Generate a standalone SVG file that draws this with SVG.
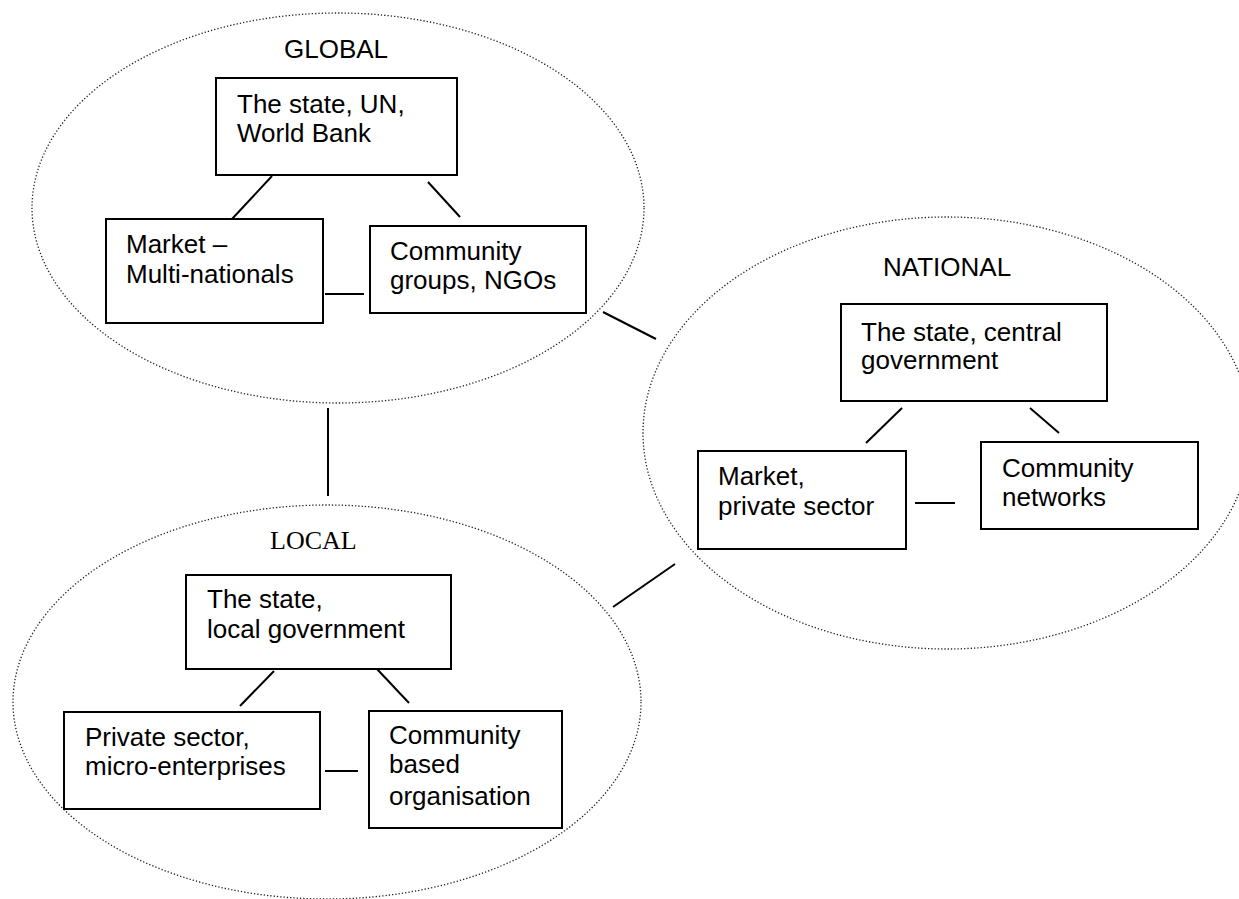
<svg xmlns="http://www.w3.org/2000/svg" width="1239" height="899" viewBox="0 0 1239 899">
<style>
.bg{fill:#fff}
.zone{fill:none;stroke:#222;stroke-width:1.3;stroke-dasharray:1.3 2}
.box{fill:#fff;stroke:#000;stroke-width:2}
.lbl{font-family:"Liberation Sans",Arial,sans-serif;font-size:26px;fill:#000}
.ttl{font-family:"Liberation Sans",Arial,sans-serif;font-size:26px;fill:#000}
.ttls{font-family:"Liberation Serif","Times New Roman",serif;font-size:26px;fill:#000}
.ln{stroke:#000;stroke-width:2;fill:none}
</style>
<rect class="bg" x="0" y="0" width="1239" height="899"/>
<g id="zones">
<ellipse id="global" class="zone" cx="338" cy="208" rx="306" ry="195"/>
<ellipse id="national" class="zone" cx="947" cy="433" rx="304" ry="216"/>
<ellipse id="local" class="zone" cx="327" cy="702" rx="314" ry="197"/>
</g>
<g id="titles">
<text class="ttl" x="284" y="58">GLOBAL</text>
<text class="ttl" x="883" y="276">NATIONAL</text>
<text class="ttls" x="270" y="549">LOCAL</text>
</g>
<g id="connectors">
<line class="ln" x1="272" y1="176" x2="232" y2="219"/>
<line class="ln" x1="428" y1="182" x2="460" y2="217"/>
<line class="ln" x1="325" y1="294" x2="364" y2="294"/>
<line class="ln" x1="902" y1="408" x2="866" y2="443"/>
<line class="ln" x1="1030" y1="408" x2="1059" y2="433"/>
<line class="ln" x1="915" y1="503" x2="955" y2="503"/>
<line class="ln" x1="274" y1="671" x2="240" y2="706"/>
<line class="ln" x1="377" y1="669" x2="409" y2="703"/>
<line class="ln" x1="325" y1="771" x2="358" y2="771"/>
<line class="ln" x1="328" y1="408" x2="328" y2="496"/>
<line class="ln" x1="603" y1="312" x2="656" y2="339"/>
<line class="ln" x1="613" y1="607" x2="675" y2="564"/>
</g>
<g id="g-state">
<rect class="box" x="216" y="78" width="241" height="97"/>
<text class="lbl" x="237" y="113">The state, UN,</text>
<text class="lbl" x="237" y="142">World Bank</text>
</g>
<g id="g-market">
<rect class="box" x="106" y="219" width="217" height="104"/>
<text class="lbl" x="126" y="253">Market –</text>
<text class="lbl" x="126" y="283">Multi-nationals</text>
</g>
<g id="g-community">
<rect class="box" x="370" y="226" width="216" height="87"/>
<text class="lbl" x="390" y="260">Community</text>
<text class="lbl" x="390" y="289">groups, NGOs</text>
</g>
<g id="n-state">
<rect class="box" x="841" y="304" width="266" height="97"/>
<text class="lbl" x="861" y="341">The state, central</text>
<text class="lbl" x="861" y="369">government</text>
</g>
<g id="n-market">
<rect class="box" x="698" y="451" width="208" height="98"/>
<text class="lbl" x="718" y="485">Market,</text>
<text class="lbl" x="718" y="515">private sector</text>
</g>
<g id="n-community">
<rect class="box" x="981" y="442" width="217" height="87"/>
<text class="lbl" x="1002" y="477">Community</text>
<text class="lbl" x="1002" y="506">networks</text>
</g>
<g id="l-state">
<rect class="box" x="186" y="575" width="265" height="94"/>
<text class="lbl" x="207" y="608">The state,</text>
<text class="lbl" x="207" y="638">local government</text>
</g>
<g id="l-private">
<rect class="box" x="64" y="712" width="256" height="97"/>
<text class="lbl" x="85" y="746">Private sector,</text>
<text class="lbl" x="85" y="775">micro-enterprises</text>
</g>
<g id="l-community">
<rect class="box" x="369" y="711" width="193" height="117"/>
<text class="lbl" x="389" y="744">Community</text>
<text class="lbl" x="389" y="773">based</text>
<text class="lbl" x="389" y="805">organisation</text>
</g>
</svg>
